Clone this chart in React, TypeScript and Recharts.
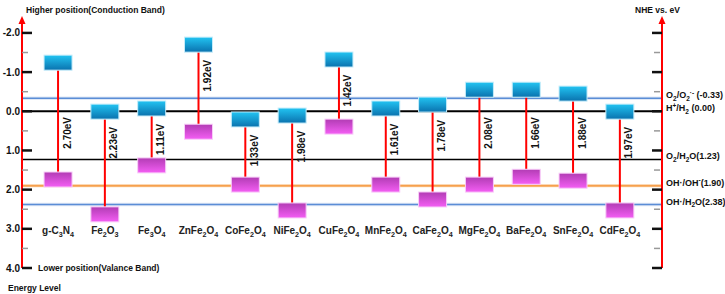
import * as React from 'react';
import { ComposedChart, XAxis, YAxis, ReferenceLine, ReferenceDot } from 'recharts';

// band edges in eV vs NHE
const materials = [
  'g-C3N4', 'Fe2O3', 'Fe3O4', 'ZnFe2O4', 'CoFe2O4', 'NiFe2O4', 'CuFe2O4',
  'MnFe2O4', 'CaFe2O4', 'MgFe2O4', 'BaFe2O4', 'SnFe2O4', 'CdFe2O4',
];
const conductionBand = [-1.05, 0.2, 0.12, -1.51, 0.4, 0.3, -1.13, 0.12, 0.02, -0.36, -0.36, -0.26, 0.2];
const valenceBand = [1.55, 2.44, 1.19, 0.33, 1.68, 2.34, 0.2, 1.68, 2.06, 1.68, 1.48, 1.58, 2.34];
const bandGaps = ['2.70', '2.23', '1.11', '1.92', '1.33', '1.98', '1.42', '1.61', '1.78', '2.08', '1.66', '1.88', '1.97'];

const energyTicks = [-2, -1.5, -1, -0.5, 0, 0.5, 1, 1.5, 2, 2.5, 3, 3.5, 4];

// redox potentials on the right
const redoxValues = [-0.33, 0, 1.23, 1.9, 2.38];
type Part = [string, 'n' | 'sub' | 'sup'];
const redoxLabels: Part[][] = [
  [['O', 'n'], ['2', 'sub'], ['/O', 'n'], ['2', 'sub'], ['·-', 'sup'], [' (-0.33)', 'n']],
  [['H', 'n'], ['+', 'sup'], ['/H', 'n'], ['2', 'sub'], [' (0.00)', 'n']],
  [['O', 'n'], ['2', 'sub'], ['/H', 'n'], ['2', 'sub'], ['O(1.23)', 'n']],
  [['OH·/OH', 'n'], ['-', 'sup'], ['(1.90)', 'n']],
  [['OH·/H', 'n'], ['2', 'sub'], ['O(2.38)', 'n']],
];
const redoxStyle = [
  { stroke: '#5b8dd6', width: 1.5, halo: '#dfe8f6' },
  { stroke: '#000000', width: 2, halo: '' },
  { stroke: '#000000', width: 1.5, halo: '' },
  { stroke: '#f6a04d', width: 2, halo: '#fdebd8' },
  { stroke: '#5b8dd6', width: 1.5, halo: '#dfe8f6' },
];

const X_MIN = -0.77;
const X_MAX = 12.9;
const Y_MIN = -2.33;
const Y_MAX = 4;
const FONT = '"Liberation Sans", Arial, sans-serif';

const rows = materials.map((name, i) => ({ idx: i, name, cb: conductionBand[i], vb: valenceBand[i] }));

function rich(parts: Part[], size: number) {
  let shift = 0;
  return parts.map(([t, k], i) => {
    const target = k === 'sub' ? size * 0.3 : k === 'sup' ? -size * 0.4 : 0;
    const dy = target - shift;
    shift = target;
    return (
      <tspan key={i} dy={dy} fontSize={k === 'n' ? size : size * 0.72}>
        {t}
      </tspan>
    );
  });
}

function formulaParts(name: string): Part[] {
  return (name.match(/\d+|\D+/g) || []).map((s) => [s, /\d/.test(s) ? 'sub' : 'n'] as Part);
}

const MaterialTick = (props: any) => {
  const { x, y, payload } = props;
  const name = materials[payload.value];
  if (!name) return null;
  return (
    <text x={x} y={y - 34} textAnchor="middle" fontFamily={FONT} fontWeight="bold" fill="#222">
      {rich(formulaParts(name), 10)}
    </text>
  );
};

const LeftTick = (props: any) => {
  const { x, y, payload } = props;
  const v = payload.value;
  const major = Number.isInteger(v);
  return (
    <g>
      <line x1={x} x2={x + (major ? 10 : 6)} y1={y} y2={y} stroke={major ? '#111' : '#999'} strokeWidth={major ? 2.5 : 1.5} />
      {major && (
        <text x={x - 2} y={y} dy="0.35em" textAnchor="end" fontFamily={FONT} fontWeight="bold" fontSize={10} fill="#111">
          {v.toFixed(1)}
        </text>
      )}
    </g>
  );
};

const RightTick = (props: any) => {
  const { x, y, payload } = props;
  const major = Number.isInteger(payload.value);
  return (
    <line x1={x - (major ? 10 : 8)} x2={major ? x : x - 2} y1={y} y2={y} stroke={major ? '#111' : '#999'} strokeWidth={major ? 2.5 : 1.5} />
  );
};

const arrowShape = (props: any) => {
  const { cx, cy } = props;
  return <path d={`M${cx},${cy - 4} L${cx - 3.5},${cy + 4} L${cx + 3.5},${cy + 4} Z`} fill="#ff0000" />;
};

// band boxes hang off the band edge: CB box above it, VB box below it
const cbBox = (props: any) => (
  <rect x={props.cx - 14} y={props.cy - 15} width={28} height={15} fill="url(#cbGrad)" stroke="#c4ecfa" strokeWidth={1} />
);
const vbBox = (props: any) => (
  <rect x={props.cx - 14} y={props.cy} width={28} height={15} fill="url(#vbGrad)" stroke="#f8cdf8" strokeWidth={1} />
);

export default function App() {
  return (
    <div style={{ position: 'absolute', left: 0, top: 0, width: 725, height: 294, background: '#fff' }}>
      <ComposedChart width={725} height={294} data={rows} margin={{ top: 20, right: 0, left: 0, bottom: 0 }}>
        <defs>
          <linearGradient id="cbGrad" x1="0" y1="0" x2="0" y2="1">
            <stop offset="0%" stopColor="#22c4f2" />
            <stop offset="100%" stopColor="#0a72ae" />
          </linearGradient>
          <linearGradient id="vbGrad" x1="0" y1="0" x2="0" y2="1">
            <stop offset="0%" stopColor="#b23cb4" />
            <stop offset="100%" stopColor="#f45ef4" />
          </linearGradient>
        </defs>
        <XAxis
          type="number"
          dataKey="idx"
          domain={[X_MIN, X_MAX]}
          allowDataOverflow
          ticks={materials.map((_, i) => i)}
          interval={0}
          axisLine={false}
          tickLine={false}
          tickSize={0}
          tickMargin={0}
          height={26}
          tick={<MaterialTick />}
        />
        <YAxis
          yAxisId="l"
          type="number"
          reversed
          domain={[Y_MIN, Y_MAX]}
          allowDataOverflow
          ticks={energyTicks}
          interval={0}
          width={22}
          tickSize={0}
          tickMargin={0}
          tickLine={false}
          axisLine={{ stroke: '#ff0000', strokeWidth: 2 }}
          tick={<LeftTick />}
        />
        <YAxis
          yAxisId="r"
          orientation="right"
          type="number"
          reversed
          domain={[Y_MIN, Y_MAX]}
          allowDataOverflow
          ticks={energyTicks}
          interval={0}
          width={63}
          tickSize={0}
          tickMargin={0}
          tickLine={false}
          axisLine={{ stroke: '#ff0000', strokeWidth: 2 }}
          tick={<RightTick />}
        />

        {redoxValues.map((v, i) =>
          redoxStyle[i].halo ? (
            <ReferenceLine key={`h${i}`} yAxisId="l" y={v} stroke={redoxStyle[i].halo} strokeWidth={3.5} />
          ) : null
        )}
        {redoxValues.map((v, i) => (
          <ReferenceLine key={`r${i}`} yAxisId="l" y={v} stroke={redoxStyle[i].stroke} strokeWidth={redoxStyle[i].width} />
        ))}

        {rows.map((r) => (
          <ReferenceLine
            key={`g${r.idx}`}
            yAxisId="l"
            segment={[{ x: r.idx, y: r.cb }, { x: r.idx, y: r.vb }]}
            stroke="#ff0000"
            strokeWidth={2}
          />
        ))}
        {rows.map((r) => (
          <ReferenceDot key={`c${r.idx}`} yAxisId="l" x={r.idx} y={r.cb} ifOverflow="visible" shape={cbBox} />
        ))}
        {rows.map((r) => (
          <ReferenceDot key={`v${r.idx}`} yAxisId="l" x={r.idx} y={r.vb} ifOverflow="visible" shape={vbBox} />
        ))}
        {rows.map((r, i) => {
          const top = r.cb < 0 && r.vb > 1 ? 0.1 : r.cb + 0.15;
          return (
            <ReferenceDot
              key={`t${i}`}
              yAxisId="l"
              x={r.idx}
              y={top + 0.45}
              ifOverflow="visible"
              shape={(p: any) => (
                <text
                  x={p.cx + 9}
                  y={p.cy}
                  dy="0.35em"
                  textAnchor="middle"
                  transform={`rotate(-90, ${p.cx + 9}, ${p.cy})`}
                  fontFamily={FONT}
                  fontWeight="bold"
                  fontSize={10}
                  fill="#111"
                >
                  {bandGaps[i]}eV
                </text>
              )}
            />
          );
        })}
        {redoxValues.map((v, i) => (
          <ReferenceDot
            key={`l${i}`}
            yAxisId="l"
            x={X_MAX}
            y={v}
            ifOverflow="visible"
            shape={(p: any) => (
              <text x={p.cx + 4} y={p.cy} dy="0.35em" fontFamily={FONT} fontWeight="bold" fontSize={9} fill="#111">
                {rich(redoxLabels[i], 9)}
              </text>
            )}
          />
        ))}
        <ReferenceDot yAxisId="l" x={X_MIN} y={Y_MIN} ifOverflow="visible" shape={arrowShape} />
        <ReferenceDot yAxisId="l" x={X_MAX} y={Y_MIN} ifOverflow="visible" shape={arrowShape} />
      </ComposedChart>
      <svg width={725} height={294} style={{ position: 'absolute', left: 0, top: 0, pointerEvents: 'none' }}>
        <g fontFamily={FONT} fontWeight="bold" fontSize={8.5} fill="#111">
          <text x={26} y={13}>Higher position(Conduction Band)</text>
          <text x={635} y={13}>NHE vs. eV</text>
          <text x={38} y={271}>Lower position(Valance Band)</text>
          <text x={8} y={291}>Energy Level</text>
        </g>
      </svg>
    </div>
  );
}
